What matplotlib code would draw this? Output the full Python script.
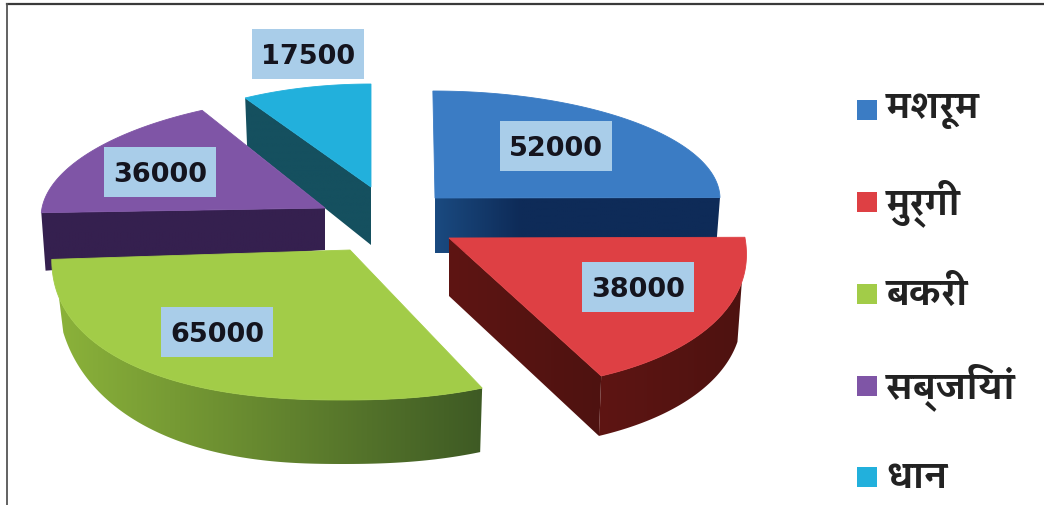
#!/usr/bin/env python3
"""Exploded 3D-style pie of income by farm activity, with a side legend."""

import os

import matplotlib
matplotlib.use("Agg")
import matplotlib.pyplot as plt
from matplotlib import font_manager
from matplotlib.colors import LinearSegmentedColormap
from matplotlib.patches import Polygon, Rectangle
import numpy as np

# Data
categories = ["मशरूम", "मुर्गी", "बकरी", "सब्जियां", "धान"]
values = [52000, 38000, 65000, 36000, 17500]

# Slice colours
top_colors = ["#3B7CC4", "#DE4044", "#A2CC48", "#7F55A6", "#22B0DC"]
side_colors = [("#1A4A80", "#0E2B58"), ("#5E1513", "#4E1210"), ("#8BB23A", "#3E5A24"),
               ("#35204F", "#35204F"), ("#15505F", "#15505F")]
side_grad_stop = [0.3, 1, 1, 1, 1]

# Placement of each exploded slice, in pixels: centre, radii, shear, rim roundness
centers = [(435, 198), (449, 238), (350, 250), (325, 208), (371, 187)]
radii = [(285, 107), (296, 151), (298, 150), (283, 113), (250, 103)]
shears = [0.02, 0.17, -0.05, -0.20, 0.0]
roundness = [1.0, 0.95, 0.87, 1.0, 1.0]

# Thickness at the centre and at the rim; which straight edge shows; rim wall trim
depths = [(55, 55), (58, 60), (64, 64), (42, 58), (58, 48)]
cut_edges = ["end", "end", None, "start", "start"]
wall_trim = [None, (16, 0), (0, 13), None, None]
wall_fade = [0, 0, 0.45, 0, 0]
TAPER = 0.985

label_centers = [(556, 146), (638, 287), (217, 332), (160, 172), (308, 54)]
legend_y = [110, 202, 294, 386, 477]
draw_order = [4, 0, 3, 2, 1]


def devanagari_font(size):
    """Pick an installed serif-like Devanagari face, else the default list."""
    wanted = ["Kadwa-Bold.ttf", "Kadwa-Regular.ttf", "NotoSansDevanagariUI-Bold.ttf"]
    found = {os.path.basename(p): p for p in font_manager.findSystemFonts()}
    for name in wanted:
        if name in found:
            return font_manager.FontProperties(fname=found[name], size=size)
    return font_manager.FontProperties(family=["Noto Sans", "DejaVu Sans"], size=size)


def rim_point(i, theta):
    """Point on the top rim of slice i; theta in degrees clockwise from north."""
    cx, cy = centers[i]
    rx, ry = radii[i]
    t = np.radians(theta)
    p = roundness[i]
    c, s = np.cos(t), np.sin(t)
    y = -ry * np.sign(c) * abs(c) ** p
    x = rx * np.sign(s) * abs(s) ** p + shears[i] * y
    return cx + x, cy + y


def lower(i, x, y, depth):
    """Same point on the underside of the slice."""
    cx = centers[i][0]
    return cx + (x - cx) * TAPER, y + depth


def shaded_polygon(ax, i, pts, zorder):
    """Fill a side polygon with a left-to-right gradient."""
    pts = np.array(pts)
    x0, x1 = pts[:, 0].min(), pts[:, 0].max()
    y0, y1 = pts[:, 1].min(), pts[:, 1].max()
    cmap = LinearSegmentedColormap.from_list("side", side_colors[i])
    grad = np.clip(np.linspace(0, 1, 256) / side_grad_stop[i], 0, 1).reshape(1, -1)
    im = ax.imshow(grad, extent=(x0, x1, y1, y0), cmap=cmap, vmin=0, vmax=1,
                   aspect="auto", zorder=zorder, interpolation="bilinear")
    patch = Polygon(pts, closed=True, transform=ax.transData, facecolor="none", edgecolor="none")
    ax.add_patch(patch)
    im.set_clip_path(patch)
    ax.set_xlim(0, 1044)
    ax.set_ylim(505, 0)


def draw_slice(ax, i, theta0, theta1):
    cx, cy = centers[i]
    d_center, d_rim = depths[i]
    z = 2 + draw_order.index(i)

    # Flat face along one of the straight edges
    if cut_edges[i]:
        theta = theta1 if cut_edges[i] == "end" else theta0
        x, y = rim_point(i, theta)
        bx, by = lower(i, x, y, d_rim)
        shaded_polygon(ax, i, [(cx, cy), (x, y), (bx, by), (cx, cy + d_center)], z)

    # Curved outer wall, thinning smoothly towards the far end
    if wall_trim[i] is not None:
        a0 = theta0 + wall_trim[i][0]
        a1 = theta1 - wall_trim[i][1]
        arc = np.linspace(a0, a1, 120)
        top = [rim_point(i, a) for a in arc]
        fade = 1 - wall_fade[i] * np.clip(1 - (a1 - arc) / 70, 0, 1) ** 2
        bottom = [lower(i, x, y, d_rim * f) for (x, y), f in zip(top, fade)]
        shaded_polygon(ax, i, top + bottom[::-1], z)

    # Top surface
    arc = np.linspace(theta0, theta1, 120)
    pts = [(cx, cy)] + [rim_point(i, a) for a in arc]
    ax.add_patch(Polygon(pts, closed=True, facecolor=top_colors[i], edgecolor=top_colors[i],
                         lw=0.6, zorder=z + 0.5))


def main():
    plt.rcParams["font.family"] = ["DejaVu Sans"]
    fig = plt.figure(figsize=(10.44, 5.05), dpi=100)
    ax = fig.add_axes([0, 0, 1, 1])
    ax.set_xlim(0, 1044)
    ax.set_ylim(505, 0)
    ax.axis("off")

    # Outer frame
    ax.plot([6.5, 1044], [3.5, 3.5], color="#3A3A3A", lw=1.6, zorder=1)
    ax.plot([6.5, 6.5], [505, 3.5], color="#555555", lw=1.3, zorder=1)

    total = sum(values)
    spans = np.array(values) / total * 360
    bounds = np.concatenate([[0], np.cumsum(spans)])

    for i in draw_order:
        draw_slice(ax, i, bounds[i], bounds[i + 1])

    # Value labels on pale blue boxes
    for val, (lx, ly) in zip(values, label_centers):
        ax.add_patch(Rectangle((lx - 56, ly - 25), 112, 50, facecolor="#A9CDE9", lw=0, zorder=20))
        ax.text(lx, ly, str(val), ha="center", va="center_baseline", fontsize=19.5,
                fontweight="bold", color="#14141E", zorder=21)

    # Legend
    deva_font = devanagari_font(25)
    for name, y, col in zip(categories, legend_y, top_colors):
        ax.add_patch(Rectangle((857, y - 10), 20, 20, facecolor=col, lw=0, zorder=5))
        ax.text(886, y + 1, name, ha="left", va="center", fontproperties=deva_font,
                color="#222222", zorder=5)

    fig.savefig("out.png", dpi=100)
    plt.close(fig)


if __name__ == "__main__":
    main()
